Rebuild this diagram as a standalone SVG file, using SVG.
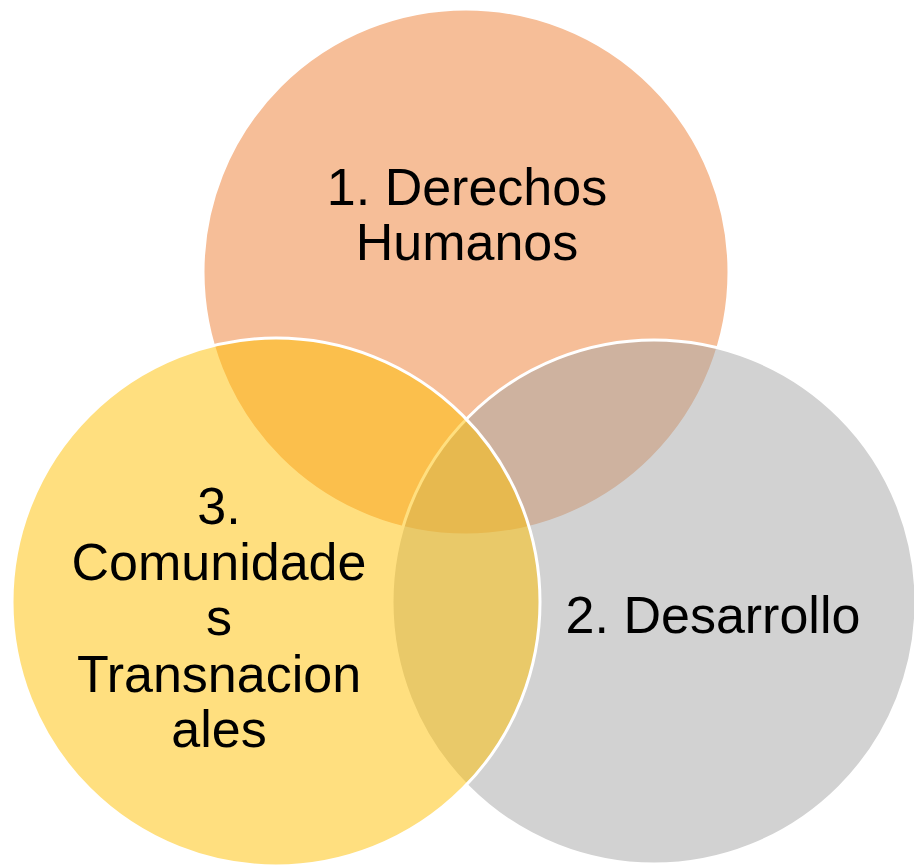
<svg xmlns="http://www.w3.org/2000/svg" width="914" height="866" viewBox="0 0 914 866">
<style>
.c{stroke:#fff;stroke-width:3;fill-opacity:0.5}
.t{font-family:"Liberation Sans",Arial,sans-serif;font-size:52px;fill:#000;text-anchor:middle}
</style>
<rect width="914" height="866" fill="#fff"/>
<g id="node-derechos">
<circle class="c" cx="466" cy="272" r="263" fill="#ED7D31"/>
</g>
<g id="node-desarrollo">
<circle class="c" cx="654" cy="602" r="262" fill="#A5A5A5"/>
</g>
<g id="node-comunidades">
<circle class="c" cx="276" cy="602" r="264" fill="#FFC000"/>
</g>
<g id="labels">
<text class="t" x="467" y="205">1. Derechos</text>
<text class="t" x="467" y="260">Humanos</text>
<text class="t" x="713" y="633">2. Desarrollo</text>
<text class="t" x="219" y="524">3.</text>
<text class="t" x="219" y="580">Comunidade</text>
<text class="t" x="219" y="635">s</text>
<text class="t" x="219" y="692">Transnacion</text>
<text class="t" x="219" y="747">ales</text>
</g>
<g id="connectors"></g>
</svg>
